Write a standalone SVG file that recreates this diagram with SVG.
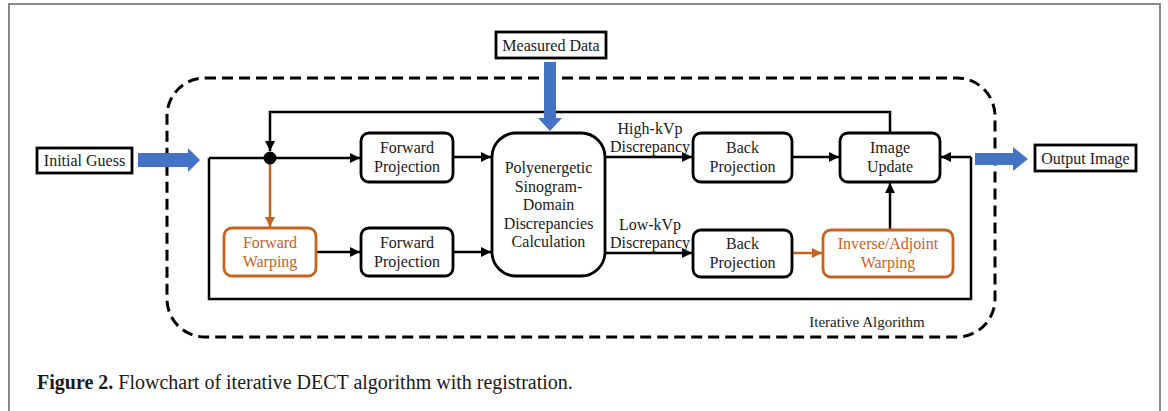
<svg xmlns="http://www.w3.org/2000/svg" width="1168" height="411" viewBox="0 0 1168 411">
<defs>
<marker id="ah" viewBox="0 0 10 10" refX="10" refY="5" markerWidth="4" markerHeight="4" orient="auto" markerUnits="strokeWidth"><path d="M0,0 L10,5 L0,10 z" fill="#000"/></marker>
<marker id="ao" viewBox="0 0 10 10" refX="10" refY="5" markerWidth="4" markerHeight="4" orient="auto" markerUnits="strokeWidth"><path d="M0,0 L10,5 L0,10 z" fill="#C5631F"/></marker>
</defs>
<style>
text{font-family:"Liberation Serif","Times New Roman",serif;font-size:16px;fill:#1a1a1a;text-anchor:middle}
.box{fill:#fff;stroke:#000;stroke-width:2.8}
.obox{fill:#fff;stroke:#C5631F;stroke-width:2.8}
.otxt{fill:#C5631F}
.sq{fill:#fff;stroke:#000;stroke-width:2.8}
.ln{fill:none;stroke:#000;stroke-width:2.5}
.arr{fill:none;stroke:#000;stroke-width:2.5;marker-end:url(#ah)}
.oarr{fill:none;stroke:#C5631F;stroke-width:2.5;marker-end:url(#ao)}
.blue{fill:#4472C4}
.cap{text-anchor:start;font-size:20px}
</style>
<rect x="9" y="4" width="1151" height="430" fill="#fff" stroke="#8a8a8a" stroke-width="2"/>
<rect x="167" y="78" width="828" height="259" rx="38" fill="none" stroke="#000" stroke-width="3" stroke-dasharray="11,6"/>
<text x="867" y="327" style="font-size:15px">Iterative Algorithm</text>

<g id="connectors">
<path class="ln" d="M209,158 H270"/>
<path class="ln" d="M209,158 V299 H971 V157"/>
<path class="arr" d="M971,157 H941"/>
<path class="arr" d="M890,133 V112 H270 V151"/>
<path class="arr" d="M270,158 H360"/>
<path class="oarr" d="M270,158 V227"/>
<path class="arr" d="M316,252 H360"/>
<path class="arr" d="M453,157 H491"/>
<path class="arr" d="M453,252 H491"/>
<path class="arr" d="M605,157 H692"/>
<path class="arr" d="M605,253 H692"/>
<path class="arr" d="M792,157 H839"/>
<path class="oarr" d="M792,253 H822"/>
<path class="arr" d="M890,230 V183"/>
<polygon class="blue" points="138,153 188,153 188,148 200,160 188,172 188,167 138,167"/>
<polygon class="blue" points="544,62 556,62 556,118 562,118 550,131 538,118 544,118"/>
<polygon class="blue" points="975,153 1013,153 1013,147 1028,159 1013,171 1013,165 975,165"/>
<text x="650" y="134">High-kVp</text>
<text x="650" y="152">Discrepancy</text>
<text x="650" y="230">Low-kVp</text>
<text x="650" y="248">Discrepancy</text>
</g>
<circle cx="270" cy="158" r="6.5" fill="#000"/>

<g id="initial-guess"><rect class="sq" x="37" y="148" width="95" height="25"/><text x="84.5" y="166">Initial Guess</text></g>
<g id="measured-data"><rect class="sq" x="496" y="32" width="110" height="26"/><text x="551" y="51">Measured Data</text></g>
<g id="output-image"><rect class="sq" x="1035" y="145" width="101" height="26"/><text x="1085.5" y="164">Output Image</text></g>

<g id="forward-projection-1"><rect class="box" x="361" y="133" width="92" height="49" rx="8"/><text x="407" y="153">Forward</text><text x="407" y="172">Projection</text></g>
<g id="poly"><rect class="box" x="492" y="133" width="113" height="143" rx="24"/><text x="548.5" y="173">Polyenergetic</text><text x="548.5" y="191.5">Sinogram-</text><text x="548.5" y="210">Domain</text><text x="548.5" y="228.5">Discrepancies</text><text x="548.5" y="247">Calculation</text></g>
<g id="back-projection-1"><rect class="box" x="693" y="133" width="99" height="49" rx="8"/><text x="742.5" y="153">Back</text><text x="742.5" y="172">Projection</text></g>
<g id="image-update"><rect class="box" x="840" y="133" width="100" height="49" rx="8"/><text x="890" y="153">Image</text><text x="890" y="172">Update</text></g>

<g id="forward-warping"><rect class="obox" x="224" y="228" width="92" height="48" rx="8"/><text class="otxt" x="270" y="248">Forward</text><text class="otxt" x="270" y="267">Warping</text></g>
<g id="forward-projection-2"><rect class="box" x="361" y="228" width="92" height="48" rx="8"/><text x="407" y="248">Forward</text><text x="407" y="267">Projection</text></g>
<g id="back-projection-2"><rect class="box" x="693" y="230" width="99" height="47" rx="8"/><text x="742.5" y="249">Back</text><text x="742.5" y="268">Projection</text></g>
<g id="inverse-warping"><rect class="obox" x="823" y="230" width="130" height="47" rx="8"/><text class="otxt" x="888" y="249">Inverse/Adjoint</text><text class="otxt" x="888" y="268">Warping</text></g>

<text class="cap" x="37" y="389"><tspan font-weight="bold">Figure 2.</tspan> Flowchart of iterative DECT algorithm with registration.</text>
</svg>
